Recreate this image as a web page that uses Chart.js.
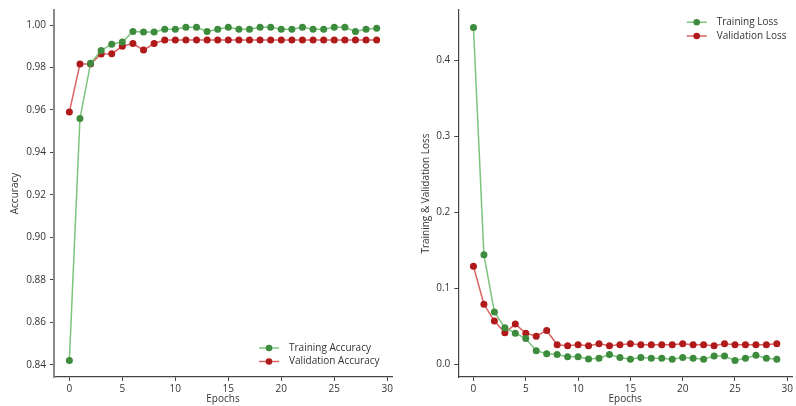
<!DOCTYPE html>
<html>
<head>
<meta charset="utf-8">
<script src="https://cdn.jsdelivr.net/npm/chart.js@4/dist/chart.umd.min.js"></script>
<style>
  html, body { margin: 0; padding: 0; background: #fff; }
  #wrapL { position: absolute; left: 0; top: 0; width: 400px; height: 406px; }
  #wrapR { position: absolute; left: 400px; top: 0; width: 396px; height: 406px; }
</style>
</head>
<body>
<div id="wrapL"><canvas id="accChart"></canvas></div>
<div id="wrapR"><canvas id="lossChart"></canvas></div>
<script>
const epochs = [0,1,2,3,4,5,6,7,8,9,10,11,12,13,14,15,16,17,18,19,20,21,22,23,24,25,26,27,28,29];
const trainAcc = [0.842,0.956,0.982,0.988,0.991,0.992,0.997,0.9967,0.9967,0.998,0.998,0.999,0.999,0.997,0.998,0.999,0.998,0.998,0.999,0.999,0.998,0.998,0.999,0.998,0.998,0.999,0.999,0.997,0.998,0.9985];
const valAcc = [0.959,0.9817,0.9817,0.9864,0.9865,0.990,0.9913,0.9882,0.9913,0.993,0.993,0.993,0.993,0.993,0.993,0.993,0.993,0.993,0.993,0.993,0.993,0.993,0.993,0.993,0.993,0.993,0.993,0.993,0.993,0.993];
const trainLoss = [0.443,0.144,0.069,0.048,0.041,0.034,0.018,0.014,0.013,0.010,0.010,0.007,0.008,0.013,0.009,0.0066,0.009,0.008,0.008,0.0066,0.009,0.008,0.0066,0.011,0.011,0.005,0.008,0.012,0.008,0.0066];
const valLoss = [0.129,0.079,0.057,0.0415,0.053,0.041,0.037,0.0446,0.0258,0.0245,0.0258,0.0245,0.027,0.0245,0.0258,0.027,0.0258,0.0258,0.0258,0.0258,0.027,0.0258,0.0258,0.0245,0.027,0.0258,0.0258,0.0258,0.0258,0.027];
const xTicks = [0,5,10,15,20,25,30];
const accTicks = [0.84,0.86,0.88,0.90,0.92,0.94,0.96,0.98,1.00];
const lossTicks = [0.0,0.1,0.2,0.3,0.4];
const accLabels = ['Training Accuracy','Validation Accuracy'];
const lossLabels = ['Training Loss','Validation Loss'];
const xTitle = 'Epochs';
const accTitle = 'Accuracy';
const lossTitle = 'Training & Validation Loss';

const FONT = '"Open Sans", "DejaVu Sans", sans-serif';
const GREEN_LINE = 'rgba(110,190,110,0.9)';
const GREEN_PT = '#3d8b3d';
const RED_LINE = 'rgba(215,80,80,0.9)';
const RED_PT = '#b01a1a';

const pts = arr => arr.map((v, i) => ({x: epochs[i], y: v}));

function ds(label, data, line, pt) {
  return {
    label, data: pts(data),
    borderColor: line, backgroundColor: pt,
    pointBackgroundColor: pt, pointBorderColor: pt,
    pointRadius: 3.5, pointBorderWidth: 0, borderWidth: 1.5,
    tension: 0, fill: false
  };
}

const insideLegend = {
  id: 'insideLegend',
  afterDraw(chart, args, opts) {
    const ctx = chart.ctx;
    ctx.save();
    ctx.font = '10px ' + FONT;
    ctx.textBaseline = 'middle';
    ctx.textAlign = 'left';
    chart.data.datasets.forEach((d, i) => {
      const y = opts.y + i * opts.gap;
      ctx.strokeStyle = d.borderColor;
      ctx.lineWidth = 1.5;
      ctx.beginPath();
      ctx.moveTo(opts.x, y); ctx.lineTo(opts.x + 20, y);
      ctx.stroke();
      ctx.fillStyle = d.pointBackgroundColor;
      ctx.beginPath();
      ctx.arc(opts.x + 10, y, 3.3, 0, Math.PI * 2);
      ctx.fill();
      ctx.fillStyle = '#333';
      ctx.fillText(d.label, opts.x + 30, y);
    });
    ctx.restore();
  }
};

function makeChart(id, datasets, yMin, yMax, yTicks, decimals, yW, yTitle, yTitlePad, padRight, legendPos, spineColor, spineW) {
  return new Chart(document.getElementById(id), {
    type: 'line',
    data: { datasets },
    options: {
      responsive: true, maintainAspectRatio: false, animation: false,
      layout: { padding: { top: 9, right: padRight, bottom: 0, left: 0 } },
      plugins: { legend: { display: false }, tooltip: { enabled: false }, insideLegend: legendPos },
      scales: {
        x: {
          type: 'linear', min: -1.45, max: 30.45,
          afterBuildTicks: s => { s.ticks = xTicks.map(v => ({value: v})); },
          afterFit: s => { s.height = 29; },
          grid: { drawOnChartArea: false, drawTicks: true, tickLength: 4, color: '#444', lineWidth: 1 },
          border: { display: true, color: '#444', width: 1.3 },
          ticks: { color: '#333', font: { family: FONT, size: 10 }, padding: 2, maxRotation: 0,
                   callback: v => String(v) },
          title: { display: true, text: xTitle, color: '#333', font: { family: FONT, size: 10 }, padding: { top: 0, bottom: 1 } }
        },
        y: {
          type: 'linear', min: yMin, max: yMax,
          afterBuildTicks: s => { s.ticks = yTicks.map(v => ({value: v})); },
          afterFit: s => { s.width = yW; },
          grid: { drawOnChartArea: false, drawTicks: true, tickLength: 4, color: '#444', lineWidth: 1 },
          border: { display: true, color: spineColor, width: spineW },
          ticks: { color: '#333', font: { family: FONT, size: 10 }, padding: 4,
                   callback: v => Number(v).toFixed(decimals) },
          title: { display: true, text: yTitle, color: '#333', font: { family: FONT, size: 10 }, padding: { top: yTitlePad, bottom: 0 } }
        }
      }
    },
    plugins: [insideLegend]
  });
}

makeChart('accChart',
  [ds(accLabels[0], trainAcc, GREEN_LINE, GREEN_PT), ds(accLabels[1], valAcc, RED_LINE, RED_PT)],
  0.8342, 1.0071, accTicks, 2, 54, accTitle, 9, 8,
  { x: 259, y: 348, gap: 13.5 }, '#888', 2);

makeChart('lossChart',
  [ds(lossLabels[0], trainLoss, GREEN_LINE, GREEN_PT), ds(lossLabels[1], valLoss, RED_LINE, RED_PT)],
  -0.0166, 0.466, lossTicks, 1, 58.3, lossTitle, 20, 3,
  { x: 286.7, y: 22.3, gap: 13.7 }, '#444', 1.2);
</script>
</body>
</html>
